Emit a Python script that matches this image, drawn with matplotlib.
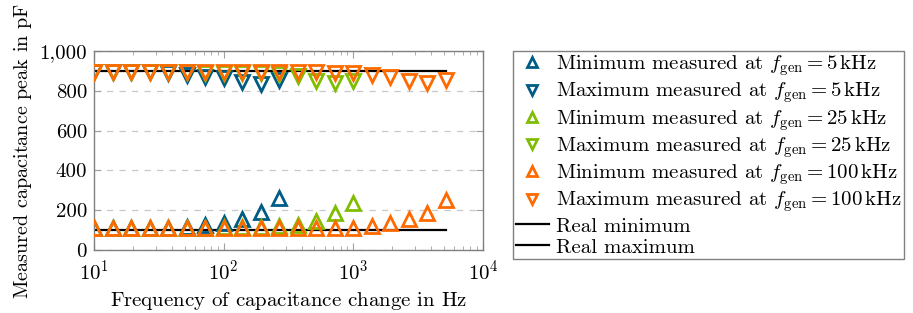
import matplotlib.pyplot as plt
from matplotlib.ticker import FuncFormatter, LogLocator

plt.rcParams['font.family'] = 'cmr10'
plt.rcParams['mathtext.fontset'] = 'cm'
plt.rcParams['axes.formatter.use_mathtext'] = True

# frequency of capacitance change in Hz
freq = [10, 13.9, 19.3, 26.8, 37.3, 51.8, 72.0, 100, 138.9, 193.1,
        268.3, 372.8, 517.9, 719.7, 1000, 1389, 1931, 2683, 3728, 5179]

# measured peaks in pF
min_5k = [110, 110, 110, 112, 112, 118, 125, 135, 155, 190, 262]
max_5k = [895, 895, 895, 893, 890, 880, 870, 862, 842, 835, 855]
min_25k = [110, 110, 110, 110, 110, 112, 112, 115, 115, 118, 120, 128, 148, 185, 238]
max_25k = [895, 895, 895, 895, 895, 893, 892, 890, 890, 888, 885, 875, 848, 838, 850]
min_100k = [110, 110, 110, 110, 110, 110, 110, 110, 110, 110,
            110, 110, 112, 112, 113, 123, 135, 155, 188, 250]
max_100k = [895, 895, 895, 895, 895, 895, 895, 895, 895, 895,
            893, 893, 893, 892, 888, 878, 868, 848, 838, 855]

real_min = 100
real_max = 900

blue = '#005b85'
green = '#80bd00'
orange = '#ff6a00'
fs = 15

fig = plt.figure(figsize=(9.13, 3.13), dpi=100)
ax = fig.add_axes([0.103, 0.201, 0.426, 0.636])

series = [
    (min_5k, '^', blue, r'Minimum measured at $f_{\mathrm{gen}}=5\,\mathrm{kHz}$'),
    (max_5k, 'v', blue, r'Maximum measured at $f_{\mathrm{gen}}=5\,\mathrm{kHz}$'),
    (min_25k, '^', green, r'Minimum measured at $f_{\mathrm{gen}}=25\,\mathrm{kHz}$'),
    (max_25k, 'v', green, r'Maximum measured at $f_{\mathrm{gen}}=25\,\mathrm{kHz}$'),
    (min_100k, '^', orange, r'Minimum measured at $f_{\mathrm{gen}}=100\,\mathrm{kHz}$'),
    (max_100k, 'v', orange, r'Maximum measured at $f_{\mathrm{gen}}=100\,\mathrm{kHz}$'),
]

ax.plot([freq[0], freq[-1]], [real_min, real_min], color='black', lw=1.6, label='Real minimum', zorder=2)
ax.plot([freq[0], freq[-1]], [real_max, real_max], color='black', lw=1.6, label='Real maximum', zorder=2)

handles = []
for vals, m, c, lab in series:
    h, = ax.plot(freq[:len(vals)], vals, linestyle='none', marker=m, ms=10,
                 mfc='none', mec=c, mew=2.0, label=lab, zorder=3)
    handles.append(h)
line_handles = ax.get_lines()[:2]

ax.set_xscale('log')
ax.set_xlim(10, 1e4)
ax.set_ylim(0, 1000)
ax.set_yticks([0, 200, 400, 600, 800, 1000])
ax.yaxis.set_major_formatter(FuncFormatter(lambda v, p: f'{int(v):,}'))
ax.xaxis.set_minor_locator(LogLocator(base=10, subs=range(2, 10)))
ax.yaxis.grid(True, linestyle=(0, (5, 5)), color='#c8c8c8', lw=0.9)
ax.set_axisbelow(True)

for s in ax.spines.values():
    s.set_color('#808080')
    s.set_linewidth(1.0)
ax.tick_params(which='both', direction='in', top=True, right=True, color='#a0a0a0', labelsize=fs)
ax.tick_params(which='major', length=5)
ax.tick_params(which='minor', length=3)
ax.tick_params(axis='x', pad=7)
ax.tick_params(axis='y', pad=5)

ax.set_xlabel(r'Frequency of capacitance change in $\mathrm{Hz}$', fontsize=fs, labelpad=4)
ax.set_ylabel(r'Measured capacitance peak in $\mathrm{pF}$', fontsize=14.5, labelpad=4)

leg = fig.legend(handles + line_handles, [h.get_label() for h in handles + line_handles],
                 loc='upper left', bbox_to_anchor=(503 / 913, 1 - 41 / 313),
                 fontsize=fs, frameon=True, fancybox=False, framealpha=1,
                 edgecolor='#808080', handlelength=1.6, handletextpad=0.35,
                 labelspacing=0.12, borderpad=0.1, markerscale=0.75)
leg.get_frame().set_linewidth(1.0)

fig.savefig('out.png', dpi=100)
